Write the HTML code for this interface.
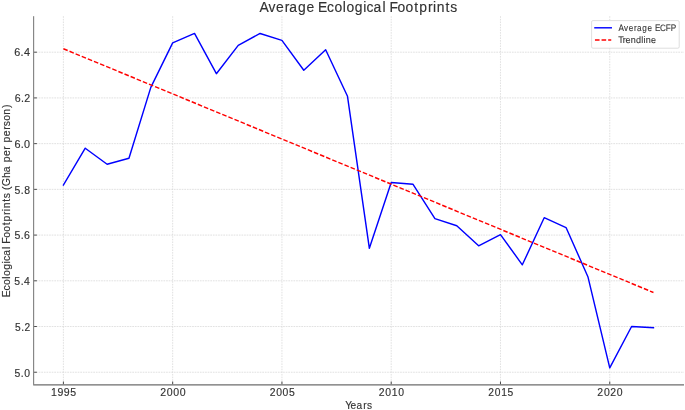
<!DOCTYPE html>
<html><head><meta charset="utf-8"><title>Average Ecological Footprints</title>
<style>
html,body{margin:0;padding:0;background:#fff;}
body{width:685px;height:410px;overflow:hidden;}
svg{display:block;will-change:transform;}
text{font-family:"Liberation Sans",sans-serif;fill:#333333;}
</style></head>
<body>
<svg width="685" height="410" viewBox="0 0 685 410">
<rect x="0" y="0" width="685" height="410" fill="#ffffff"/>
<line x1="33.5" y1="372.24" x2="684.0" y2="372.24" stroke="#d9d9d9" stroke-width="0.8" stroke-dasharray="1.7 0.9"/>
<line x1="33.5" y1="326.52" x2="684.0" y2="326.52" stroke="#d9d9d9" stroke-width="0.8" stroke-dasharray="1.7 0.9"/>
<line x1="33.5" y1="280.80" x2="684.0" y2="280.80" stroke="#d9d9d9" stroke-width="0.8" stroke-dasharray="1.7 0.9"/>
<line x1="33.5" y1="235.08" x2="684.0" y2="235.08" stroke="#d9d9d9" stroke-width="0.8" stroke-dasharray="1.7 0.9"/>
<line x1="33.5" y1="189.36" x2="684.0" y2="189.36" stroke="#d9d9d9" stroke-width="0.8" stroke-dasharray="1.7 0.9"/>
<line x1="33.5" y1="143.64" x2="684.0" y2="143.64" stroke="#d9d9d9" stroke-width="0.8" stroke-dasharray="1.7 0.9"/>
<line x1="33.5" y1="97.92" x2="684.0" y2="97.92" stroke="#d9d9d9" stroke-width="0.8" stroke-dasharray="1.7 0.9"/>
<line x1="33.5" y1="52.20" x2="684.0" y2="52.20" stroke="#d9d9d9" stroke-width="0.8" stroke-dasharray="1.7 0.9"/>
<line x1="63.40" y1="16.2" x2="63.40" y2="384.6" stroke="#d9d9d9" stroke-width="0.8" stroke-dasharray="1.6 1.05"/>
<line x1="172.67" y1="16.2" x2="172.67" y2="384.6" stroke="#d9d9d9" stroke-width="0.8" stroke-dasharray="1.6 1.05"/>
<line x1="281.94" y1="16.2" x2="281.94" y2="384.6" stroke="#d9d9d9" stroke-width="0.8" stroke-dasharray="1.6 1.05"/>
<line x1="391.21" y1="16.2" x2="391.21" y2="384.6" stroke="#d9d9d9" stroke-width="0.8" stroke-dasharray="1.6 1.05"/>
<line x1="500.48" y1="16.2" x2="500.48" y2="384.6" stroke="#d9d9d9" stroke-width="0.8" stroke-dasharray="1.6 1.05"/>
<line x1="609.75" y1="16.2" x2="609.75" y2="384.6" stroke="#d9d9d9" stroke-width="0.8" stroke-dasharray="1.6 1.05"/>
<polyline points="63.40,185.02 85.25,148.21 107.11,164.21 128.96,158.27 150.82,87.40 172.67,42.83 194.52,33.45 216.38,73.69 238.23,45.34 260.09,33.45 281.94,40.31 303.79,70.26 325.65,49.69 347.50,96.32 369.36,248.34 391.21,182.50 413.06,184.33 434.92,218.62 456.77,225.71 478.63,245.82 500.48,234.62 522.33,264.80 544.19,217.71 566.04,227.54 587.90,276.69 609.75,367.90 631.60,326.52 653.46,327.66" fill="none" stroke="#0000ff" stroke-width="1.43" stroke-linejoin="round" stroke-linecap="square"/>
<line x1="63.40" y1="48.76" x2="653.46" y2="292.47" stroke="#ff0000" stroke-width="1.43" stroke-dasharray="4.607 2.004"/>
<line x1="33.66" y1="16.2" x2="33.66" y2="384.6" stroke="#717171" stroke-width="1.0"/>
<line x1="33.2" y1="384.9" x2="684.0" y2="384.9" stroke="#6c6c6c" stroke-width="1.4"/>
<line x1="34.16" y1="372.24" x2="36.86" y2="372.24" stroke="#4a4a4a" stroke-width="1.0"/>
<line x1="34.16" y1="326.52" x2="36.86" y2="326.52" stroke="#4a4a4a" stroke-width="1.0"/>
<line x1="34.16" y1="280.80" x2="36.86" y2="280.80" stroke="#4a4a4a" stroke-width="1.0"/>
<line x1="34.16" y1="235.08" x2="36.86" y2="235.08" stroke="#4a4a4a" stroke-width="1.0"/>
<line x1="34.16" y1="189.36" x2="36.86" y2="189.36" stroke="#4a4a4a" stroke-width="1.0"/>
<line x1="34.16" y1="143.64" x2="36.86" y2="143.64" stroke="#4a4a4a" stroke-width="1.0"/>
<line x1="34.16" y1="97.92" x2="36.86" y2="97.92" stroke="#4a4a4a" stroke-width="1.0"/>
<line x1="34.16" y1="52.20" x2="36.86" y2="52.20" stroke="#4a4a4a" stroke-width="1.0"/>
<line x1="63.40" y1="384.2" x2="63.40" y2="381.5" stroke="#4a4a4a" stroke-width="1.0"/>
<line x1="172.67" y1="384.2" x2="172.67" y2="381.5" stroke="#4a4a4a" stroke-width="1.0"/>
<line x1="281.94" y1="384.2" x2="281.94" y2="381.5" stroke="#4a4a4a" stroke-width="1.0"/>
<line x1="391.21" y1="384.2" x2="391.21" y2="381.5" stroke="#4a4a4a" stroke-width="1.0"/>
<line x1="500.48" y1="384.2" x2="500.48" y2="381.5" stroke="#4a4a4a" stroke-width="1.0"/>
<line x1="609.75" y1="384.2" x2="609.75" y2="381.5" stroke="#4a4a4a" stroke-width="1.0"/>
<text transform="scale(0.9906,1)" x="14.62 20.99 24.39" y="377" font-size="10.5" stroke="#333333" stroke-width="0.15">5.0</text>
<text transform="scale(0.9738,1)" x="15.28 21.72 25.08" y="331" font-size="10.5" stroke="#333333" stroke-width="0.15">5.2</text>
<text transform="scale(0.9912,1)" x="14.51 20.87 24.27" y="285" font-size="10.5" stroke="#333333" stroke-width="0.15">5.4</text>
<text transform="scale(1.0061,1)" x="14.32 20.61 23.94" y="239" font-size="10.5" stroke="#333333" stroke-width="0.15">5.6</text>
<text transform="scale(0.9954,1)" x="14.56 20.90 24.28" y="194" font-size="10.5" stroke="#333333" stroke-width="0.15">5.8</text>
<text transform="scale(1.0323,1)" x="13.95 20.08 23.29" y="148" font-size="10.5" stroke="#333333" stroke-width="0.15">6.0</text>
<text transform="scale(1.0162,1)" x="14.56 20.76 23.91" y="102" font-size="10.5" stroke="#333333" stroke-width="0.15">6.2</text>
<text transform="scale(1.0319,1)" x="13.86 19.99 23.20" y="56" font-size="10.5" stroke="#333333" stroke-width="0.15">6.4</text>
<text transform="scale(1.0053,1)" x="50.69 57.10 63.49 69.88" y="396" font-size="10.5" stroke="#333333" stroke-width="0.15">1995</text>
<text transform="scale(1.0052,1)" x="159.40 165.93 172.32 178.72" y="396" font-size="10.5" stroke="#333333" stroke-width="0.15">2000</text>
<text transform="scale(0.9908,1)" x="272.15 278.77 285.25 291.70" y="396" font-size="10.5" stroke="#333333" stroke-width="0.15">2005</text>
<text transform="scale(0.9943,1)" x="380.98 387.58 393.99 400.50" y="396" font-size="10.5" stroke="#333333" stroke-width="0.15">2010</text>
<text transform="scale(0.9795,1)" x="498.42 505.12 511.63 518.20" y="396" font-size="10.5" stroke="#333333" stroke-width="0.15">2015</text>
<text transform="scale(0.9961,1)" x="599.66 606.25 612.56 619.15" y="396" font-size="10.5" stroke="#333333" stroke-width="0.15">2020</text>
<text transform="scale(0.9648,1)" x="357.85 363.43 369.39 376.46 380.28" y="409" font-size="10.5" stroke="#333333" stroke-width="0.15">Years</text>
<text transform="translate(9.5,0) rotate(-90) scale(0.9890,1)" x="-300.57 -293.81 -288.11 -281.86 -279.12 -272.88 -266.44 -263.84 -258.52 -251.88 -249.31 -246.42 -240.47 -234.29 -227.78 -223.96 -217.37 -213.49 -210.62 -204.02 -200.47 -195.29 -192.11 -188.30 -180.00 -174.08 -167.69 -164.12 -157.84 -151.31 -147.68 -144.11 -137.83 -131.30 -127.59 -122.22 -115.91 -109.31" y="0" font-size="10.5" stroke="#333333" stroke-width="0.15">Ecological Footprints (Gha per person)</text>
<text transform="scale(0.9797,1)" x="264.89 273.96 281.81 290.62 295.23 304.15 312.77 320.88 324.73 333.85 341.52 349.95 353.64 362.04 370.71 374.21 381.37 390.32 393.79 397.67 405.68 414.01 422.78 427.92 436.80 442.02 445.88 454.77 459.54" y="12" font-size="14.2" stroke="#333333" stroke-width="0.15">Average Ecological Footprints</text>
<rect x="591.6" y="20.6" width="87.6" height="27.6" rx="1.3" ry="1.3" fill="#ffffff" fill-opacity="0.85" stroke="#d6d6d6" stroke-width="0.8"/>
<line x1="594.95" y1="27.8" x2="611.25" y2="27.8" stroke="#0000ff" stroke-width="1.43" stroke-linecap="square"/>
<line x1="594.95" y1="40.05" x2="611.25" y2="40.05" stroke="#ff0000" stroke-width="1.43" stroke-dasharray="4.607 2.004"/>
<text transform="scale(0.8765,1)" x="705.73 711.97 717.41 723.47 726.71 732.87 738.84 744.31 747.16 753.14 759.70 765.16" y="30.8" font-size="9.3" stroke="#333333" stroke-width="0.1" style="text-rendering:geometricPrecision">Average ECFP</text>
<text transform="scale(0.9724,1)" x="635.80 640.33 643.33 648.63 653.96 659.43 661.80 664.13 669.43" y="42.8" font-size="9.3" stroke="#333333" stroke-width="0.1" style="text-rendering:geometricPrecision">Trendline</text>
</svg>
</body></html>
